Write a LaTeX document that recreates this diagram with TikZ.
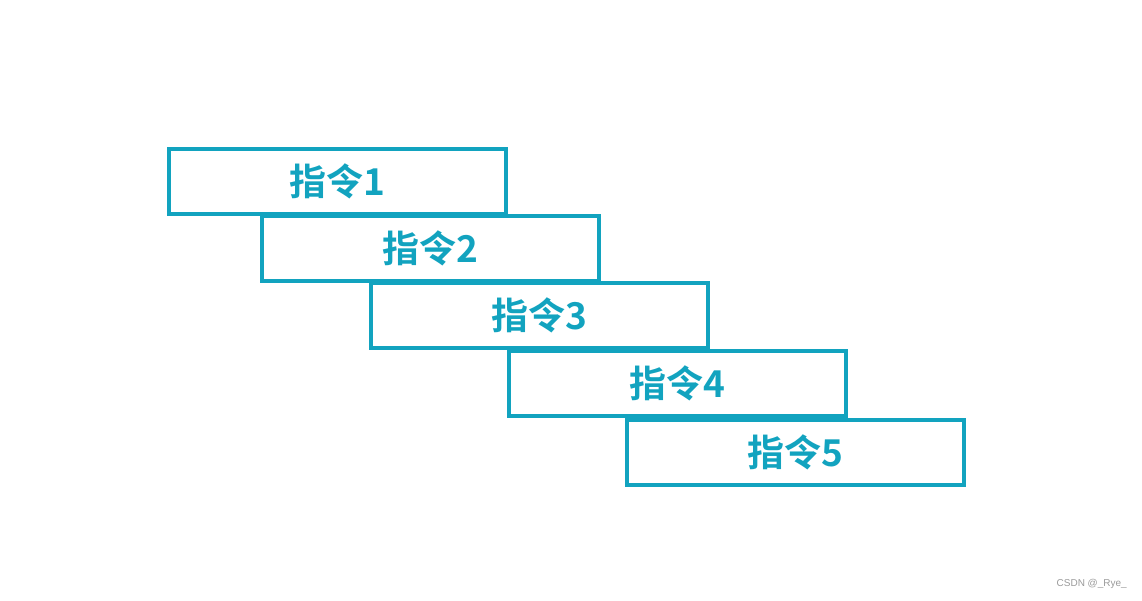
\documentclass[tikz,border=0pt]{standalone}
\usepackage{fontspec}
\newfontfamily\cjk{Noto Sans CJK SC}[BoldFont={Noto Sans CJK SC Bold}]
\setmainfont{Liberation Sans}
\definecolor{boxc}{HTML}{12A3BF}
\definecolor{wm}{HTML}{9A9A9A}
\begin{document}
\begin{tikzpicture}[x=1pt,y=-1pt,
  instr/.style={draw=boxc,line width=4pt,rectangle,inner sep=0pt,
    minimum width=337pt,minimum height=65pt,
    font=\cjk\bfseries\fontsize{37}{38}\selectfont,text=boxc}]
\useasboundingbox (0,0) rectangle (1142,600);
\node[instr] (i1) at (337.5,181) {指令1};
\node[instr] (i2) at (430.5,248.5) {指令2};
\node[instr] (i3) at (539,315) {指令3};
\node[instr] (i4) at (677,383) {指令4};
\node[instr] (i5) at (795.5,452.5) {指令5};
\node[font=\fontsize{10}{11}\selectfont,text=wm,anchor=east,inner sep=0pt] (wmk) at (1127,584) {CSDN @\_Rye\_};
\end{tikzpicture}
\end{document}
